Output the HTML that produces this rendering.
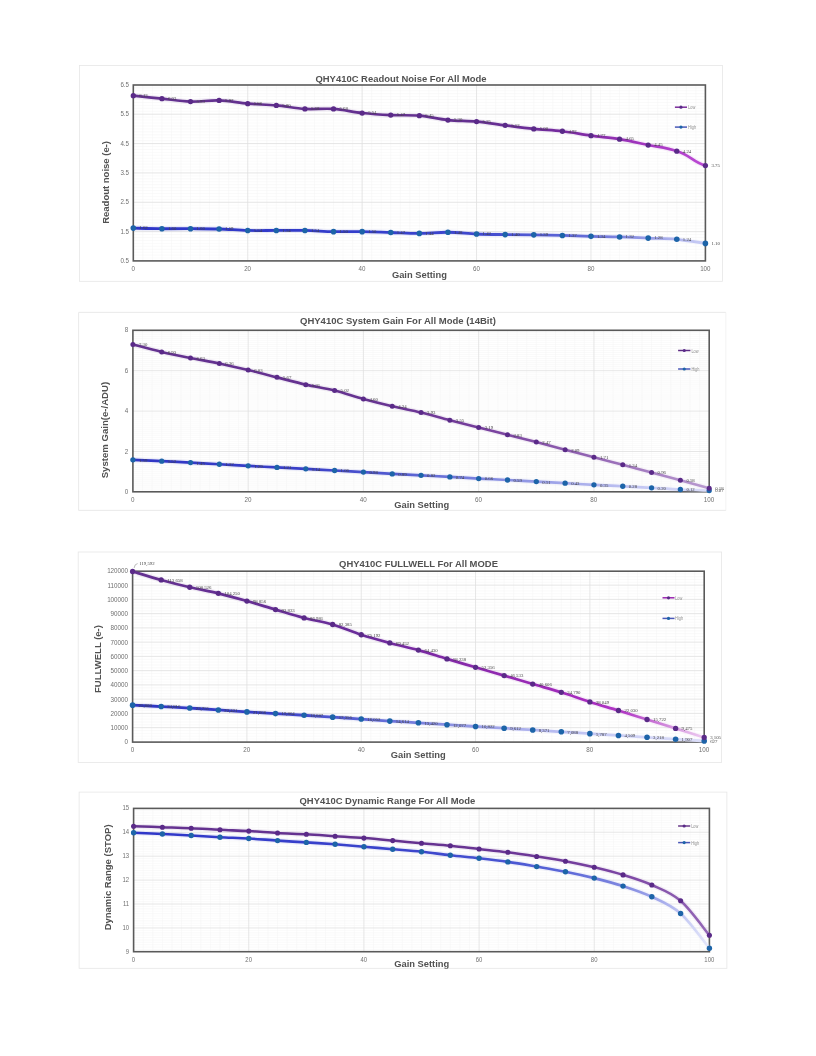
<!DOCTYPE html>
<html>
<head>
<meta charset="utf-8">
<title>QHY410C</title>
<style>
html,body{margin:0;padding:0;background:#ffffff;}
body{width:816px;height:1056px;overflow:hidden;position:relative;font-family:"Liberation Sans",sans-serif;}
svg{position:absolute;left:0;top:0;display:block;filter:blur(0.35px);}
text{font-family:"Liberation Sans",sans-serif;}
.t{font-weight:bold;font-size:9.45px;fill:#525252;}
.x{font-size:9.33px;}
.y{font-size:9.5px;}
.k{font-size:var(--k);fill:#707070;}
.d{font-family:"Liberation Serif",serif;font-size:4.8px;fill:#444444;}
.g{font-size:4.1px;fill:#909090;}
</style>
</head>
<body>
<svg width="816" height="1056" viewBox="0 0 816 1056">
<defs>
<filter id="soft" x="-5%" y="-5%" width="110%" height="110%"><feGaussianBlur stdDeviation="0.35"/></filter>
</defs>
<rect x="0" y="0" width="816" height="1056" fill="#ffffff"/>

<g id="chart1" style="--k:6.2px">
<linearGradient id="gL1" gradientUnits="userSpaceOnUse" x1="133.3" y1="0" x2="705.4" y2="0">
<stop offset="0" stop-color="#643290"/>
<stop offset="0.6" stop-color="#643090"/>
<stop offset="0.7" stop-color="#6c2c98"/>
<stop offset="0.8" stop-color="#842ca8"/>
<stop offset="0.9" stop-color="#a636c2"/>
<stop offset="1" stop-color="#bc4ad4"/>
</linearGradient>
<linearGradient id="gH1" gradientUnits="userSpaceOnUse" x1="133.3" y1="0" x2="705.4" y2="0">
<stop offset="0" stop-color="#2f36c8"/>
<stop offset="0.4" stop-color="#343ecb"/>
<stop offset="0.6" stop-color="#4048ce"/>
<stop offset="0.8" stop-color="#666ed8"/>
<stop offset="0.9" stop-color="#969ce6"/>
<stop offset="1" stop-color="#ccd0f6"/>
</linearGradient>
<clipPath id="cp1"><rect x="78.5" y="64.4" width="645.1" height="217.4"/></clipPath>
<rect x="79.5" y="65.4" width="643.1" height="215.9" fill="#ffffff" stroke="#e6e6e6" stroke-width="0.8"/>
<path d="M142.84 85V260.9M152.37 85V260.9M161.91 85V260.9M171.44 85V260.9M180.97 85V260.9M190.51 85V260.9M200.05 85V260.9M209.58 85V260.9M219.12 85V260.9M228.65 85V260.9M238.19 85V260.9M257.25 85V260.9M266.79 85V260.9M276.32 85V260.9M285.86 85V260.9M295.39 85V260.9M304.93 85V260.9M314.46 85V260.9M324 85V260.9M333.53 85V260.9M343.07 85V260.9M352.6 85V260.9M371.67 85V260.9M381.21 85V260.9M390.74 85V260.9M400.28 85V260.9M409.81 85V260.9M419.35 85V260.9M428.88 85V260.9M438.42 85V260.9M447.95 85V260.9M457.49 85V260.9M467.02 85V260.9M486.09 85V260.9M495.63 85V260.9M505.16 85V260.9M514.7 85V260.9M524.23 85V260.9M533.77 85V260.9M543.3 85V260.9M552.84 85V260.9M562.38 85V260.9M571.91 85V260.9M581.44 85V260.9M600.51 85V260.9M610.05 85V260.9M619.58 85V260.9M629.12 85V260.9M638.65 85V260.9M648.19 85V260.9M657.72 85V260.9M667.26 85V260.9M676.79 85V260.9M686.33 85V260.9M695.87 85V260.9" stroke="#f4f4f4" stroke-width="0.5" fill="none"/>
<path d="M133.3 87.79H705.4M133.3 90.72H705.4M133.3 93.66H705.4M133.3 96.59H705.4M133.3 99.53H705.4M133.3 102.47H705.4M133.3 105.4H705.4M133.3 108.34H705.4M133.3 111.27H705.4M133.3 117.14H705.4M133.3 120.08H705.4M133.3 123.02H705.4M133.3 125.95H705.4M133.3 128.89H705.4M133.3 131.82H705.4M133.3 134.76H705.4M133.3 137.69H705.4M133.3 140.63H705.4M133.3 146.5H705.4M133.3 149.44H705.4M133.3 152.37H705.4M133.3 155.31H705.4M133.3 158.25H705.4M133.3 161.18H705.4M133.3 164.12H705.4M133.3 167.05H705.4M133.3 169.99H705.4M133.3 175.86H705.4M133.3 178.8H705.4M133.3 181.73H705.4M133.3 184.67H705.4M133.3 187.6H705.4M133.3 190.54H705.4M133.3 193.48H705.4M133.3 196.41H705.4M133.3 199.35H705.4M133.3 205.22H705.4M133.3 208.16H705.4M133.3 211.09H705.4M133.3 214.03H705.4M133.3 216.96H705.4M133.3 219.9H705.4M133.3 222.83H705.4M133.3 225.77H705.4M133.3 228.71H705.4M133.3 234.58H705.4M133.3 237.51H705.4M133.3 240.45H705.4M133.3 243.38H705.4M133.3 246.32H705.4M133.3 249.26H705.4M133.3 252.19H705.4M133.3 255.13H705.4M133.3 258.06H705.4" stroke="#f4f4f4" stroke-width="0.5" fill="none"/>
<path d="M247.72 85V260.9M362.14 85V260.9M476.56 85V260.9M590.98 85V260.9M133.3 114.21H705.4M133.3 143.57H705.4M133.3 172.93H705.4M133.3 202.28H705.4M133.3 231.64H705.4" stroke="#e0e0e0" stroke-width="0.8" fill="none"/>
<rect x="133.3" y="85" width="572.1" height="175.9" fill="none" stroke="#5a5a5a" stroke-width="1.6"/>
<text class="t" x="401" y="81.9" text-anchor="middle">QHY410C Readout Noise For All Mode</text>
<text class="t x" x="419.4" y="277.5" text-anchor="middle" clip-path="url(#cp1)">Gain Setting</text>
<text class="t y" transform="translate(108.9 182.4) rotate(-90)" text-anchor="middle">Readout noise (e-)</text>
<text class="k" transform="translate(129 86.85) scale(1 1.12)" text-anchor="end">6.5</text>
<text class="k" transform="translate(129 116.21) scale(1 1.12)" text-anchor="end">5.5</text>
<text class="k" transform="translate(129 145.57) scale(1 1.12)" text-anchor="end">4.5</text>
<text class="k" transform="translate(129 174.93) scale(1 1.12)" text-anchor="end">3.5</text>
<text class="k" transform="translate(129 204.28) scale(1 1.12)" text-anchor="end">2.5</text>
<text class="k" transform="translate(129 233.64) scale(1 1.12)" text-anchor="end">1.5</text>
<text class="k" transform="translate(129 263) scale(1 1.12)" text-anchor="end">0.5</text>
<text class="k" transform="translate(133.2 271.2) scale(1 1.12)" text-anchor="middle">0</text>
<text class="k" transform="translate(247.62 271.2) scale(1 1.12)" text-anchor="middle">20</text>
<text class="k" transform="translate(362.04 271.2) scale(1 1.12)" text-anchor="middle">40</text>
<text class="k" transform="translate(476.46 271.2) scale(1 1.12)" text-anchor="middle">60</text>
<text class="k" transform="translate(590.88 271.2) scale(1 1.12)" text-anchor="middle">80</text>
<text class="k" transform="translate(705.3 271.2) scale(1 1.12)" text-anchor="middle">100</text>
<path d="M133.3 228.12C138.07 228.22 152.37 228.61 161.91 228.71C171.44 228.8 180.97 228.66 190.51 228.71C200.04 228.75 209.58 228.71 219.12 229C228.65 229.29 238.19 230.22 247.72 230.47C257.25 230.71 266.79 230.47 276.32 230.47C285.86 230.47 295.39 230.27 304.93 230.47C314.46 230.66 324 231.45 333.53 231.64C343.07 231.84 352.6 231.49 362.14 231.64C371.68 231.79 381.21 232.23 390.75 232.52C400.28 232.82 409.81 233.45 419.35 233.4C428.88 233.35 438.42 232.13 447.95 232.23C457.49 232.33 467.02 233.6 476.56 233.99C486.09 234.38 495.63 234.43 505.16 234.58C514.7 234.72 524.24 234.72 533.77 234.87C543.3 235.02 552.84 235.21 562.38 235.46C571.91 235.7 581.45 236.09 590.98 236.34C600.51 236.58 610.05 236.63 619.59 236.93C629.12 237.22 638.66 237.71 648.19 238.1C657.73 238.49 667.26 238.39 676.79 239.27C686.33 240.16 700.63 242.7 705.4 243.38" fill="none" stroke="url(#gH1)" stroke-width="5.3" stroke-opacity="0.09" stroke-linecap="round"/>
<path d="M133.3 95.71C138.07 96.2 152.37 97.67 161.91 98.65C171.44 99.63 180.97 101.29 190.51 101.58C200.04 101.88 209.58 100.07 219.12 100.41C228.65 100.75 238.19 102.81 247.72 103.64C257.25 104.47 266.79 104.52 276.32 105.4C285.86 106.28 295.39 108.34 304.93 108.92C314.46 109.51 324 108.24 333.53 108.92C343.07 109.61 352.6 112.01 362.14 113.03C371.68 114.06 381.21 114.65 390.75 115.09C400.28 115.53 409.81 114.84 419.35 115.68C428.88 116.51 438.42 119.1 447.95 120.08C457.49 121.06 467.02 120.67 476.56 121.55C486.09 122.43 495.63 124.14 505.16 125.36C514.7 126.59 524.24 127.91 533.77 128.89C543.3 129.87 552.84 130.11 562.38 131.24C571.91 132.36 581.45 134.32 590.98 135.64C600.51 136.96 610.05 137.6 619.59 139.16C629.12 140.73 638.66 143.03 648.19 145.03C657.73 147.04 667.26 147.77 676.79 151.2C688.81 154.05 693.39 162.48 705.4 165.59" fill="none" stroke="url(#gL1)" stroke-width="5.3" stroke-opacity="0.09" stroke-linecap="round"/>
<path d="M133.3 228.12C138.07 228.22 152.37 228.61 161.91 228.71C171.44 228.8 180.97 228.66 190.51 228.71C200.04 228.75 209.58 228.71 219.12 229C228.65 229.29 238.19 230.22 247.72 230.47C257.25 230.71 266.79 230.47 276.32 230.47C285.86 230.47 295.39 230.27 304.93 230.47C314.46 230.66 324 231.45 333.53 231.64C343.07 231.84 352.6 231.49 362.14 231.64C371.68 231.79 381.21 232.23 390.75 232.52C400.28 232.82 409.81 233.45 419.35 233.4C428.88 233.35 438.42 232.13 447.95 232.23C457.49 232.33 467.02 233.6 476.56 233.99C486.09 234.38 495.63 234.43 505.16 234.58C514.7 234.72 524.24 234.72 533.77 234.87C543.3 235.02 552.84 235.21 562.38 235.46C571.91 235.7 581.45 236.09 590.98 236.34C600.51 236.58 610.05 236.63 619.59 236.93C629.12 237.22 638.66 237.71 648.19 238.1C657.73 238.49 667.26 238.39 676.79 239.27C686.33 240.16 700.63 242.7 705.4 243.38" fill="none" stroke="url(#gH1)" stroke-width="2.8" stroke-linecap="round" stroke-linejoin="round"/>
<path d="M133.3 95.71C138.07 96.2 152.37 97.67 161.91 98.65C171.44 99.63 180.97 101.29 190.51 101.58C200.04 101.88 209.58 100.07 219.12 100.41C228.65 100.75 238.19 102.81 247.72 103.64C257.25 104.47 266.79 104.52 276.32 105.4C285.86 106.28 295.39 108.34 304.93 108.92C314.46 109.51 324 108.24 333.53 108.92C343.07 109.61 352.6 112.01 362.14 113.03C371.68 114.06 381.21 114.65 390.75 115.09C400.28 115.53 409.81 114.84 419.35 115.68C428.88 116.51 438.42 119.1 447.95 120.08C457.49 121.06 467.02 120.67 476.56 121.55C486.09 122.43 495.63 124.14 505.16 125.36C514.7 126.59 524.24 127.91 533.77 128.89C543.3 129.87 552.84 130.11 562.38 131.24C571.91 132.36 581.45 134.32 590.98 135.64C600.51 136.96 610.05 137.6 619.59 139.16C629.12 140.73 638.66 143.03 648.19 145.03C657.73 147.04 667.26 147.77 676.79 151.2C688.81 154.05 693.39 162.48 705.4 165.59" fill="none" stroke="url(#gL1)" stroke-width="2.7" stroke-linecap="round" stroke-linejoin="round"/>
<g fill="#1d64a8"><circle cx="133.3" cy="228.12" r="2.8"/><circle cx="161.91" cy="228.71" r="2.8"/><circle cx="190.51" cy="228.71" r="2.8"/><circle cx="219.12" cy="229" r="2.8"/><circle cx="247.72" cy="230.47" r="2.8"/><circle cx="276.32" cy="230.47" r="2.8"/><circle cx="304.93" cy="230.47" r="2.8"/><circle cx="333.53" cy="231.64" r="2.8"/><circle cx="362.14" cy="231.64" r="2.8"/><circle cx="390.75" cy="232.52" r="2.8"/><circle cx="419.35" cy="233.4" r="2.8"/><circle cx="447.95" cy="232.23" r="2.8"/><circle cx="476.56" cy="233.99" r="2.8"/><circle cx="505.16" cy="234.58" r="2.8"/><circle cx="533.77" cy="234.87" r="2.8"/><circle cx="562.38" cy="235.46" r="2.8"/><circle cx="590.98" cy="236.34" r="2.8"/><circle cx="619.59" cy="236.93" r="2.8"/><circle cx="648.19" cy="238.1" r="2.8"/><circle cx="676.79" cy="239.27" r="2.8"/><circle cx="705.4" cy="243.38" r="2.8"/></g>
<g fill="#5a2a88"><circle cx="133.3" cy="95.71" r="2.65"/><circle cx="161.91" cy="98.65" r="2.65"/><circle cx="190.51" cy="101.58" r="2.65"/><circle cx="219.12" cy="100.41" r="2.65"/><circle cx="247.72" cy="103.64" r="2.65"/><circle cx="276.32" cy="105.4" r="2.65"/><circle cx="304.93" cy="108.92" r="2.65"/><circle cx="333.53" cy="108.92" r="2.65"/><circle cx="362.14" cy="113.03" r="2.65"/><circle cx="390.75" cy="115.09" r="2.65"/><circle cx="419.35" cy="115.68" r="2.65"/><circle cx="447.95" cy="120.08" r="2.65"/><circle cx="476.56" cy="121.55" r="2.65"/><circle cx="505.16" cy="125.36" r="2.65"/><circle cx="533.77" cy="128.89" r="2.65"/><circle cx="562.38" cy="131.24" r="2.65"/><circle cx="590.98" cy="135.64" r="2.65"/><circle cx="619.59" cy="139.16" r="2.65"/><circle cx="648.19" cy="145.03" r="2.65"/><circle cx="676.79" cy="151.2" r="2.65"/><circle cx="705.4" cy="165.59" r="2.65"/></g>
<g style="font-size:4.8px"><text class="d" x="139.3" y="229.42">1.62</text><text class="d" x="167.91" y="230.01">1.60</text><text class="d" x="196.51" y="230.01">1.60</text><text class="d" x="225.12" y="230.3">1.59</text><text class="d" x="253.72" y="231.77">1.54</text><text class="d" x="282.32" y="231.77">1.54</text><text class="d" x="310.93" y="231.77">1.54</text><text class="d" x="339.53" y="232.94">1.50</text><text class="d" x="368.14" y="232.94">1.50</text><text class="d" x="396.75" y="233.82">1.47</text><text class="d" x="425.35" y="234.7">1.44</text><text class="d" x="453.95" y="233.53">1.48</text><text class="d" x="482.56" y="235.29">1.42</text><text class="d" x="511.16" y="235.88">1.40</text><text class="d" x="539.77" y="236.17">1.39</text><text class="d" x="568.38" y="236.76">1.37</text><text class="d" x="596.98" y="237.64">1.34</text><text class="d" x="625.59" y="238.23">1.32</text><text class="d" x="654.19" y="239.4">1.28</text><text class="d" x="682.79" y="240.57">1.24</text><text class="d" x="711.4" y="244.69">1.10</text><text class="d" x="139.3" y="97.01">6.13</text><text class="d" x="167.91" y="99.95">6.03</text><text class="d" x="196.51" y="102.88">5.93</text><text class="d" x="225.12" y="101.71">5.97</text><text class="d" x="253.72" y="104.94">5.86</text><text class="d" x="282.32" y="106.7">5.80</text><text class="d" x="310.93" y="110.22">5.68</text><text class="d" x="339.53" y="110.22">5.68</text><text class="d" x="368.14" y="114.33">5.54</text><text class="d" x="396.75" y="116.39">5.47</text><text class="d" x="425.35" y="116.98">5.45</text><text class="d" x="453.95" y="121.38">5.30</text><text class="d" x="482.56" y="122.85">5.25</text><text class="d" x="511.16" y="126.66">5.12</text><text class="d" x="539.77" y="130.19">5.00</text><text class="d" x="568.38" y="132.54">4.92</text><text class="d" x="596.98" y="136.94">4.77</text><text class="d" x="625.59" y="140.46">4.65</text><text class="d" x="654.19" y="146.33">4.45</text><text class="d" x="682.79" y="152.5">4.24</text><text class="d" x="711.4" y="166.89">3.75</text></g>
<path d="M674.9 107.2H687" stroke="#7a2c9a" stroke-width="1.5" fill="none"/>
<circle cx="680.95" cy="107.2" r="1.6" fill="#5a2a88"/>
<text class="g" transform="translate(688.1 109.2) scale(0.95 1.2)">Low</text>
<path d="M674.9 127.1H687" stroke="#4a58b8" stroke-width="1.5" fill="none"/>
<circle cx="680.95" cy="127.1" r="1.6" fill="#1d64a8"/>
<text class="g" transform="translate(688.1 129.1) scale(0.95 1.2)">High</text>
</g>
<g id="chart2" style="--k:6.3px">
<linearGradient id="gL2" gradientUnits="userSpaceOnUse" x1="132.9" y1="0" x2="709.2" y2="0">
<stop offset="0" stop-color="#643290"/>
<stop offset="0.4" stop-color="#653290"/>
<stop offset="0.6" stop-color="#763e9c"/>
<stop offset="0.8" stop-color="#9466b4"/>
<stop offset="0.92" stop-color="#ab86c6"/>
<stop offset="1" stop-color="#b99ad0"/>
</linearGradient>
<linearGradient id="gH2" gradientUnits="userSpaceOnUse" x1="132.9" y1="0" x2="709.2" y2="0">
<stop offset="0" stop-color="#3036c4"/>
<stop offset="0.3" stop-color="#3a40c8"/>
<stop offset="0.45" stop-color="#525ad0"/>
<stop offset="0.6" stop-color="#7a82de"/>
<stop offset="0.75" stop-color="#a4a9ea"/>
<stop offset="0.9" stop-color="#c8cbf4"/>
<stop offset="1" stop-color="#dcdef9"/>
</linearGradient>
<clipPath id="cp2"><rect x="77.6" y="311.4" width="649.2" height="199.5"/></clipPath>
<path d="M725.8 312.4V510.4H725.8V312.4" fill="none" stroke="#f7f7f7" stroke-width="1"/>
<path d="M725.8 312.4H78.6V510.4H725.8" fill="none" stroke="#e4e4e4" stroke-width="0.8"/>
<path d="M142.5 330.3V491.8M152.11 330.3V491.8M161.72 330.3V491.8M171.32 330.3V491.8M180.93 330.3V491.8M190.53 330.3V491.8M200.13 330.3V491.8M209.74 330.3V491.8M219.35 330.3V491.8M228.95 330.3V491.8M238.56 330.3V491.8M257.76 330.3V491.8M267.37 330.3V491.8M276.98 330.3V491.8M286.58 330.3V491.8M296.19 330.3V491.8M305.79 330.3V491.8M315.39 330.3V491.8M325 330.3V491.8M334.61 330.3V491.8M344.21 330.3V491.8M353.82 330.3V491.8M373.03 330.3V491.8M382.63 330.3V491.8M392.24 330.3V491.8M401.84 330.3V491.8M411.45 330.3V491.8M421.05 330.3V491.8M430.66 330.3V491.8M440.26 330.3V491.8M449.87 330.3V491.8M459.47 330.3V491.8M469.08 330.3V491.8M488.29 330.3V491.8M497.89 330.3V491.8M507.5 330.3V491.8M517.1 330.3V491.8M526.71 330.3V491.8M536.31 330.3V491.8M545.92 330.3V491.8M555.52 330.3V491.8M565.13 330.3V491.8M574.73 330.3V491.8M584.34 330.3V491.8M603.55 330.3V491.8M613.15 330.3V491.8M622.76 330.3V491.8M632.36 330.3V491.8M641.97 330.3V491.8M651.57 330.3V491.8M661.18 330.3V491.8M670.78 330.3V491.8M680.39 330.3V491.8M689.99 330.3V491.8M699.6 330.3V491.8" stroke="#f4f4f4" stroke-width="0.5" fill="none"/>
<path d="M132.9 332.32H709.2M132.9 334.34H709.2M132.9 336.36H709.2M132.9 338.38H709.2M132.9 340.4H709.2M132.9 342.42H709.2M132.9 344.44H709.2M132.9 346.46H709.2M132.9 348.48H709.2M132.9 350.5H709.2M132.9 352.52H709.2M132.9 354.54H709.2M132.9 356.56H709.2M132.9 358.58H709.2M132.9 360.6H709.2M132.9 362.62H709.2M132.9 364.64H709.2M132.9 366.66H709.2M132.9 368.68H709.2M132.9 372.72H709.2M132.9 374.74H709.2M132.9 376.76H709.2M132.9 378.78H709.2M132.9 380.8H709.2M132.9 382.82H709.2M132.9 384.84H709.2M132.9 386.86H709.2M132.9 388.88H709.2M132.9 390.9H709.2M132.9 392.92H709.2M132.9 394.94H709.2M132.9 396.96H709.2M132.9 398.98H709.2M132.9 401H709.2M132.9 403.02H709.2M132.9 405.04H709.2M132.9 407.06H709.2M132.9 409.08H709.2M132.9 413.12H709.2M132.9 415.14H709.2M132.9 417.16H709.2M132.9 419.18H709.2M132.9 421.2H709.2M132.9 423.22H709.2M132.9 425.24H709.2M132.9 427.26H709.2M132.9 429.28H709.2M132.9 431.3H709.2M132.9 433.32H709.2M132.9 435.34H709.2M132.9 437.36H709.2M132.9 439.38H709.2M132.9 441.4H709.2M132.9 443.42H709.2M132.9 445.44H709.2M132.9 447.46H709.2M132.9 449.48H709.2M132.9 453.52H709.2M132.9 455.54H709.2M132.9 457.56H709.2M132.9 459.58H709.2M132.9 461.6H709.2M132.9 463.62H709.2M132.9 465.64H709.2M132.9 467.66H709.2M132.9 469.68H709.2M132.9 471.7H709.2M132.9 473.72H709.2M132.9 475.74H709.2M132.9 477.76H709.2M132.9 479.78H709.2M132.9 481.8H709.2M132.9 483.82H709.2M132.9 485.84H709.2M132.9 487.86H709.2M132.9 489.88H709.2" stroke="#f4f4f4" stroke-width="0.5" fill="none"/>
<path d="M248.16 330.3V491.8M363.42 330.3V491.8M478.68 330.3V491.8M593.94 330.3V491.8M132.9 370.7H709.2M132.9 411.1H709.2M132.9 451.5H709.2" stroke="#e0e0e0" stroke-width="0.8" fill="none"/>
<rect x="132.9" y="330.3" width="576.3" height="161.5" fill="none" stroke="#5a5a5a" stroke-width="1.6"/>
<text class="t" x="397.9" y="323.8" text-anchor="middle" style="font-size:9.53px">QHY410C System Gain For All Mode (14Bit)</text>
<text class="t x" x="421.7" y="508.4" text-anchor="middle" clip-path="url(#cp2)">Gain Setting</text>
<text class="t y" transform="translate(108.2 430.1) rotate(-90)" text-anchor="middle" style="font-size:9.6px">System Gain(e-/ADU)</text>
<text class="k" transform="translate(128.3 332.3) scale(1 1.12)" text-anchor="end">8</text>
<text class="k" transform="translate(128.3 372.7) scale(1 1.12)" text-anchor="end">6</text>
<text class="k" transform="translate(128.3 413.1) scale(1 1.12)" text-anchor="end">4</text>
<text class="k" transform="translate(128.3 453.5) scale(1 1.12)" text-anchor="end">2</text>
<text class="k" transform="translate(128.3 493.9) scale(1 1.12)" text-anchor="end">0</text>
<text class="k" transform="translate(132.8 501.9) scale(1 1.12)" text-anchor="middle">0</text>
<text class="k" transform="translate(248.06 501.9) scale(1 1.12)" text-anchor="middle">20</text>
<text class="k" transform="translate(363.32 501.9) scale(1 1.12)" text-anchor="middle">40</text>
<text class="k" transform="translate(478.58 501.9) scale(1 1.12)" text-anchor="middle">60</text>
<text class="k" transform="translate(593.84 501.9) scale(1 1.12)" text-anchor="middle">80</text>
<text class="k" transform="translate(709.1 501.9) scale(1 1.12)" text-anchor="middle">100</text>
<path d="M132.9 459.78C137.7 460.02 152.11 460.72 161.72 461.2C171.32 461.67 180.93 462.11 190.53 462.61C200.14 463.12 209.74 463.69 219.35 464.23C228.95 464.76 238.56 465.3 248.16 465.84C257.77 466.38 267.37 466.95 276.98 467.46C286.58 467.96 296.19 468.37 305.79 468.87C315.4 469.38 325 469.95 334.61 470.49C344.21 471.03 353.82 471.53 363.42 472.1C373.03 472.68 382.63 473.38 392.24 473.92C401.84 474.46 411.45 474.83 421.05 475.34C430.66 475.84 440.26 476.41 449.87 476.95C459.47 477.49 469.08 478.06 478.68 478.57C488.29 479.07 497.89 479.48 507.5 479.98C517.1 480.49 526.71 481.06 536.31 481.6C545.92 482.14 555.52 482.68 565.13 483.21C574.73 483.75 584.34 484.32 593.94 484.83C603.55 485.33 613.15 485.74 622.75 486.24C632.36 486.75 641.97 487.32 651.57 487.86C661.18 488.4 670.78 489.04 680.38 489.48C689.99 489.91 704.4 490.32 709.2 490.49" fill="none" stroke="url(#gH2)" stroke-width="5.2" stroke-opacity="0.09" stroke-linecap="round"/>
<path d="M132.9 344.44C137.7 345.69 152.11 349.66 161.72 351.91C171.32 354.17 180.93 356.06 190.53 357.97C200.14 359.89 209.74 361.41 219.35 363.43C228.95 365.45 238.56 367.77 248.16 370.09C257.77 372.42 267.37 374.94 276.98 377.37C286.58 379.79 296.19 382.45 305.79 384.64C315.4 386.83 325 388.11 334.61 390.5C344.21 392.89 353.82 396.35 363.42 398.98C373.03 401.61 382.63 404 392.24 406.25C401.84 408.51 411.45 410.19 421.05 412.51C430.66 414.84 440.26 417.7 449.87 420.19C459.47 422.68 469.08 425.04 478.68 427.46C488.29 429.89 497.89 432.31 507.5 434.73C517.1 437.16 526.71 439.51 536.31 442.01C545.92 444.5 555.52 447.12 565.13 449.68C574.73 452.24 584.34 454.83 593.94 457.36C603.55 459.88 613.15 462.31 622.75 464.83C632.36 467.36 641.97 469.95 651.57 472.51C661.18 475.07 670.78 477.56 680.38 480.18C689.99 482.81 704.4 486.92 709.2 488.26" fill="none" stroke="url(#gL2)" stroke-width="5.2" stroke-opacity="0.09" stroke-linecap="round"/>
<path d="M132.9 459.78C137.7 460.02 152.11 460.72 161.72 461.2C171.32 461.67 180.93 462.11 190.53 462.61C200.14 463.12 209.74 463.69 219.35 464.23C228.95 464.76 238.56 465.3 248.16 465.84C257.77 466.38 267.37 466.95 276.98 467.46C286.58 467.96 296.19 468.37 305.79 468.87C315.4 469.38 325 469.95 334.61 470.49C344.21 471.03 353.82 471.53 363.42 472.1C373.03 472.68 382.63 473.38 392.24 473.92C401.84 474.46 411.45 474.83 421.05 475.34C430.66 475.84 440.26 476.41 449.87 476.95C459.47 477.49 469.08 478.06 478.68 478.57C488.29 479.07 497.89 479.48 507.5 479.98C517.1 480.49 526.71 481.06 536.31 481.6C545.92 482.14 555.52 482.68 565.13 483.21C574.73 483.75 584.34 484.32 593.94 484.83C603.55 485.33 613.15 485.74 622.75 486.24C632.36 486.75 641.97 487.32 651.57 487.86C661.18 488.4 670.78 489.04 680.38 489.48C689.99 489.91 704.4 490.32 709.2 490.49" fill="none" stroke="url(#gH2)" stroke-width="2.7" stroke-linecap="round" stroke-linejoin="round"/>
<path d="M132.9 344.44C137.7 345.69 152.11 349.66 161.72 351.91C171.32 354.17 180.93 356.06 190.53 357.97C200.14 359.89 209.74 361.41 219.35 363.43C228.95 365.45 238.56 367.77 248.16 370.09C257.77 372.42 267.37 374.94 276.98 377.37C286.58 379.79 296.19 382.45 305.79 384.64C315.4 386.83 325 388.11 334.61 390.5C344.21 392.89 353.82 396.35 363.42 398.98C373.03 401.61 382.63 404 392.24 406.25C401.84 408.51 411.45 410.19 421.05 412.51C430.66 414.84 440.26 417.7 449.87 420.19C459.47 422.68 469.08 425.04 478.68 427.46C488.29 429.89 497.89 432.31 507.5 434.73C517.1 437.16 526.71 439.51 536.31 442.01C545.92 444.5 555.52 447.12 565.13 449.68C574.73 452.24 584.34 454.83 593.94 457.36C603.55 459.88 613.15 462.31 622.75 464.83C632.36 467.36 641.97 469.95 651.57 472.51C661.18 475.07 670.78 477.56 680.38 480.18C689.99 482.81 704.4 486.92 709.2 488.26" fill="none" stroke="url(#gL2)" stroke-width="2.6" stroke-linecap="round" stroke-linejoin="round"/>
<g fill="#1d64a8"><circle cx="132.9" cy="459.78" r="2.65"/><circle cx="161.72" cy="461.2" r="2.65"/><circle cx="190.53" cy="462.61" r="2.65"/><circle cx="219.35" cy="464.23" r="2.65"/><circle cx="248.16" cy="465.84" r="2.65"/><circle cx="276.98" cy="467.46" r="2.65"/><circle cx="305.79" cy="468.87" r="2.65"/><circle cx="334.61" cy="470.49" r="2.65"/><circle cx="363.42" cy="472.1" r="2.65"/><circle cx="392.24" cy="473.92" r="2.65"/><circle cx="421.05" cy="475.34" r="2.65"/><circle cx="449.87" cy="476.95" r="2.65"/><circle cx="478.68" cy="478.57" r="2.65"/><circle cx="507.5" cy="479.98" r="2.65"/><circle cx="536.31" cy="481.6" r="2.65"/><circle cx="565.13" cy="483.21" r="2.65"/><circle cx="593.94" cy="484.83" r="2.65"/><circle cx="622.75" cy="486.24" r="2.65"/><circle cx="651.57" cy="487.86" r="2.65"/><circle cx="680.38" cy="489.48" r="2.65"/><circle cx="709.2" cy="490.49" r="2.65"/></g>
<g fill="#5a2a88"><circle cx="132.9" cy="344.44" r="2.5"/><circle cx="161.72" cy="351.91" r="2.5"/><circle cx="190.53" cy="357.97" r="2.5"/><circle cx="219.35" cy="363.43" r="2.5"/><circle cx="248.16" cy="370.09" r="2.5"/><circle cx="276.98" cy="377.37" r="2.5"/><circle cx="305.79" cy="384.64" r="2.5"/><circle cx="334.61" cy="390.5" r="2.5"/><circle cx="363.42" cy="398.98" r="2.5"/><circle cx="392.24" cy="406.25" r="2.5"/><circle cx="421.05" cy="412.51" r="2.5"/><circle cx="449.87" cy="420.19" r="2.5"/><circle cx="478.68" cy="427.46" r="2.5"/><circle cx="507.5" cy="434.73" r="2.5"/><circle cx="536.31" cy="442.01" r="2.5"/><circle cx="565.13" cy="449.68" r="2.5"/><circle cx="593.94" cy="457.36" r="2.5"/><circle cx="622.75" cy="464.83" r="2.5"/><circle cx="651.57" cy="472.51" r="2.5"/><circle cx="680.38" cy="480.18" r="2.5"/><circle cx="709.2" cy="488.26" r="2.5"/></g>
<g style="font-size:4.5px"><text class="d" x="138.9" y="461.68">1.59</text><text class="d" x="167.72" y="463.1">1.52</text><text class="d" x="196.53" y="464.51">1.45</text><text class="d" x="225.35" y="466.13">1.37</text><text class="d" x="254.16" y="467.74">1.29</text><text class="d" x="282.98" y="469.36">1.21</text><text class="d" x="311.79" y="470.77">1.14</text><text class="d" x="340.61" y="472.39">1.06</text><text class="d" x="369.42" y="474">0.98</text><text class="d" x="398.24" y="475.82">0.89</text><text class="d" x="427.05" y="477.24">0.82</text><text class="d" x="455.87" y="478.85">0.74</text><text class="d" x="484.68" y="480.47">0.66</text><text class="d" x="513.5" y="481.88">0.59</text><text class="d" x="542.31" y="483.5">0.51</text><text class="d" x="571.13" y="485.11">0.43</text><text class="d" x="599.94" y="486.73">0.35</text><text class="d" x="628.75" y="488.14">0.28</text><text class="d" x="657.57" y="489.76">0.20</text><text class="d" x="686.38" y="491.38">0.12</text><text class="d" x="715.2" y="492.39">0.07</text><text class="d" x="138.9" y="346.34">7.30</text><text class="d" x="167.72" y="353.81">6.93</text><text class="d" x="196.53" y="359.87">6.63</text><text class="d" x="225.35" y="365.33">6.36</text><text class="d" x="254.16" y="371.99">6.03</text><text class="d" x="282.98" y="379.27">5.67</text><text class="d" x="311.79" y="386.54">5.31</text><text class="d" x="340.61" y="392.4">5.02</text><text class="d" x="369.42" y="400.88">4.60</text><text class="d" x="398.24" y="408.15">4.24</text><text class="d" x="427.05" y="414.41">3.93</text><text class="d" x="455.87" y="422.09">3.55</text><text class="d" x="484.68" y="429.36">3.19</text><text class="d" x="513.5" y="436.63">2.83</text><text class="d" x="542.31" y="443.91">2.47</text><text class="d" x="571.13" y="451.58">2.09</text><text class="d" x="599.94" y="459.26">1.71</text><text class="d" x="628.75" y="466.73">1.34</text><text class="d" x="657.57" y="474.41">0.96</text><text class="d" x="686.38" y="482.08">0.58</text><text class="d" x="715.2" y="490.16">0.18</text></g>
<path d="M678.1 350.5H690.4" stroke="#5e2c84" stroke-width="1.5" fill="none"/>
<circle cx="684.25" cy="350.5" r="1.6" fill="#5a2a88"/>
<text class="g" transform="translate(691.4 352.5) scale(0.95 1.2)">Low</text>
<path d="M678.1 369H690.4" stroke="#4a58b8" stroke-width="1.5" fill="none"/>
<circle cx="684.25" cy="369" r="1.6" fill="#1d64a8"/>
<text class="g" transform="translate(691.4 371) scale(0.95 1.2)">High</text>
</g>
<g id="chart3" style="--k:6.3px">
<linearGradient id="gL3" gradientUnits="userSpaceOnUse" x1="132.6" y1="0" x2="704.2" y2="0">
<stop offset="0" stop-color="#643290"/>
<stop offset="0.4" stop-color="#6a2c9a"/>
<stop offset="0.6" stop-color="#8a28ac"/>
<stop offset="0.8" stop-color="#a92cc0"/>
<stop offset="0.86" stop-color="#b23ac6"/>
<stop offset="0.92" stop-color="#cc7cd8"/>
<stop offset="0.97" stop-color="#e2b2e8"/>
<stop offset="1" stop-color="#ecc8f0"/>
</linearGradient>
<linearGradient id="gH3" gradientUnits="userSpaceOnUse" x1="132.6" y1="0" x2="704.2" y2="0">
<stop offset="0" stop-color="#3036c4"/>
<stop offset="0.25" stop-color="#3a40c8"/>
<stop offset="0.4" stop-color="#5a62d4"/>
<stop offset="0.55" stop-color="#8a90e2"/>
<stop offset="0.7" stop-color="#b0b4ee"/>
<stop offset="0.85" stop-color="#cccff5"/>
<stop offset="1" stop-color="#dcdef9"/>
</linearGradient>
<clipPath id="cp3"><rect x="77.2" y="551" width="645.4" height="211.9"/></clipPath>
<rect x="78.2" y="552" width="643.4" height="210.4" fill="#ffffff" stroke="#e6e6e6" stroke-width="0.8"/>
<path d="M142.13 571.2V742.1M151.65 571.2V742.1M161.18 571.2V742.1M170.71 571.2V742.1M180.23 571.2V742.1M189.76 571.2V742.1M199.29 571.2V742.1M208.81 571.2V742.1M218.34 571.2V742.1M227.87 571.2V742.1M237.39 571.2V742.1M256.45 571.2V742.1M265.97 571.2V742.1M275.5 571.2V742.1M285.03 571.2V742.1M294.55 571.2V742.1M304.08 571.2V742.1M313.61 571.2V742.1M323.13 571.2V742.1M332.66 571.2V742.1M342.19 571.2V742.1M351.71 571.2V742.1M370.77 571.2V742.1M380.29 571.2V742.1M389.82 571.2V742.1M399.35 571.2V742.1M408.87 571.2V742.1M418.4 571.2V742.1M427.93 571.2V742.1M437.45 571.2V742.1M446.98 571.2V742.1M456.51 571.2V742.1M466.03 571.2V742.1M485.09 571.2V742.1M494.61 571.2V742.1M504.14 571.2V742.1M513.67 571.2V742.1M523.19 571.2V742.1M532.72 571.2V742.1M542.25 571.2V742.1M551.77 571.2V742.1M561.3 571.2V742.1M570.83 571.2V742.1M580.35 571.2V742.1M599.41 571.2V742.1M608.93 571.2V742.1M618.46 571.2V742.1M627.99 571.2V742.1M637.51 571.2V742.1M647.04 571.2V742.1M656.57 571.2V742.1M666.09 571.2V742.1M675.62 571.2V742.1M685.15 571.2V742.1M694.67 571.2V742.1" stroke="#f4f4f4" stroke-width="0.5" fill="none"/>
<path d="M132.6 573.75H704.2M132.6 576.6H704.2M132.6 579.45H704.2M132.6 582.3H704.2M132.6 588H704.2M132.6 590.85H704.2M132.6 593.7H704.2M132.6 596.55H704.2M132.6 602.25H704.2M132.6 605.1H704.2M132.6 607.95H704.2M132.6 610.8H704.2M132.6 616.5H704.2M132.6 619.35H704.2M132.6 622.2H704.2M132.6 625.05H704.2M132.6 630.75H704.2M132.6 633.6H704.2M132.6 636.45H704.2M132.6 639.3H704.2M132.6 645H704.2M132.6 647.85H704.2M132.6 650.7H704.2M132.6 653.55H704.2M132.6 659.25H704.2M132.6 662.1H704.2M132.6 664.95H704.2M132.6 667.8H704.2M132.6 673.5H704.2M132.6 676.35H704.2M132.6 679.2H704.2M132.6 682.05H704.2M132.6 687.75H704.2M132.6 690.6H704.2M132.6 693.45H704.2M132.6 696.3H704.2M132.6 702H704.2M132.6 704.85H704.2M132.6 707.7H704.2M132.6 710.55H704.2M132.6 716.25H704.2M132.6 719.1H704.2M132.6 721.95H704.2M132.6 724.8H704.2M132.6 730.5H704.2M132.6 733.35H704.2M132.6 736.2H704.2M132.6 739.05H704.2" stroke="#f4f4f4" stroke-width="0.5" fill="none"/>
<path d="M246.92 571.2V742.1M361.24 571.2V742.1M475.56 571.2V742.1M589.88 571.2V742.1M132.6 585.15H704.2M132.6 599.4H704.2M132.6 613.65H704.2M132.6 627.9H704.2M132.6 642.15H704.2M132.6 656.4H704.2M132.6 670.65H704.2M132.6 684.9H704.2M132.6 699.15H704.2M132.6 713.4H704.2M132.6 727.65H704.2" stroke="#e0e0e0" stroke-width="0.8" fill="none"/>
<rect x="132.6" y="571.2" width="571.6" height="170.9" fill="none" stroke="#5a5a5a" stroke-width="1.6"/>
<text class="t" x="418.5" y="566.6" text-anchor="middle">QHY410C FULLWELL For All MODE</text>
<text class="t x" x="418.2" y="758.4" text-anchor="middle" clip-path="url(#cp3)">Gain Setting</text>
<text class="t y" transform="translate(100.9 659) rotate(-90)" text-anchor="middle">FULLWELL (e-)</text>
<text class="k" transform="translate(128.1 573.3) scale(1 1.12)" text-anchor="end">120000</text>
<text class="k" transform="translate(128.1 587.55) scale(1 1.12)" text-anchor="end">110000</text>
<text class="k" transform="translate(128.1 601.8) scale(1 1.12)" text-anchor="end">100000</text>
<text class="k" transform="translate(128.1 616.05) scale(1 1.12)" text-anchor="end">90000</text>
<text class="k" transform="translate(128.1 630.3) scale(1 1.12)" text-anchor="end">80000</text>
<text class="k" transform="translate(128.1 644.55) scale(1 1.12)" text-anchor="end">70000</text>
<text class="k" transform="translate(128.1 658.8) scale(1 1.12)" text-anchor="end">60000</text>
<text class="k" transform="translate(128.1 673.05) scale(1 1.12)" text-anchor="end">50000</text>
<text class="k" transform="translate(128.1 687.3) scale(1 1.12)" text-anchor="end">40000</text>
<text class="k" transform="translate(128.1 701.55) scale(1 1.12)" text-anchor="end">30000</text>
<text class="k" transform="translate(128.1 715.8) scale(1 1.12)" text-anchor="end">20000</text>
<text class="k" transform="translate(128.1 730.05) scale(1 1.12)" text-anchor="end">10000</text>
<text class="k" transform="translate(128.1 744.3) scale(1 1.12)" text-anchor="end">0</text>
<text class="k" transform="translate(132.5 752.3) scale(1 1.12)" text-anchor="middle">0</text>
<text class="k" transform="translate(246.82 752.3) scale(1 1.12)" text-anchor="middle">20</text>
<text class="k" transform="translate(361.14 752.3) scale(1 1.12)" text-anchor="middle">40</text>
<text class="k" transform="translate(475.46 752.3) scale(1 1.12)" text-anchor="middle">60</text>
<text class="k" transform="translate(589.78 752.3) scale(1 1.12)" text-anchor="middle">80</text>
<text class="k" transform="translate(704.1 752.3) scale(1 1.12)" text-anchor="middle">100</text>
<path d="M132.6 705.13C137.36 705.37 151.65 706.05 161.18 706.54C170.71 707.02 180.23 707.48 189.76 708.05C199.29 708.62 208.81 709.31 218.34 709.95C227.87 710.59 237.39 711.27 246.92 711.88C256.45 712.49 265.97 713.03 275.5 713.59C285.03 714.16 294.55 714.68 304.08 715.27C313.61 715.87 323.13 716.54 332.66 717.17C342.19 717.79 351.71 718.37 361.24 719.03C370.77 719.68 380.29 720.45 389.82 721.08C399.35 721.7 408.87 722.17 418.4 722.78C427.93 723.38 437.45 724.07 446.98 724.69C456.51 725.31 466.03 725.89 475.56 726.48C485.09 727.06 494.61 727.62 504.14 728.2C513.67 728.79 523.19 729.37 532.72 729.97C542.25 730.57 551.77 731.19 561.3 731.8C570.83 732.41 580.35 733.04 589.88 733.65C599.41 734.27 608.93 734.86 618.46 735.47C627.99 736.08 637.51 736.7 647.04 737.31C656.57 737.93 666.09 738.57 675.62 739.18C685.15 739.8 699.44 740.7 704.2 741.01" fill="none" stroke="url(#gH3)" stroke-width="5.3" stroke-opacity="0.09" stroke-linecap="round"/>
<path d="M132.6 571.48C137.36 572.89 151.65 577.31 161.18 579.94C170.71 582.57 180.23 585.02 189.76 587.25C199.29 589.48 208.81 591.05 218.34 593.34C227.87 595.64 237.39 598.32 246.92 601.03C256.45 603.74 265.97 606.79 275.5 609.61C285.03 612.43 294.55 615.47 304.08 617.95C313.61 620.43 323.13 621.7 332.66 624.5C342.19 627.3 351.71 631.68 361.24 634.75C370.77 637.82 380.29 640.37 389.82 642.93C399.35 645.49 408.87 647.42 418.4 650.09C427.93 652.75 437.45 656.04 446.98 658.91C456.51 661.78 466.03 664.51 475.56 667.29C485.09 670.07 494.61 672.8 504.14 675.59C513.67 678.38 523.19 681.25 532.72 684.04C542.25 686.83 551.77 689.34 561.3 692.32C570.83 695.31 580.35 698.9 589.88 701.93C599.41 704.96 608.93 707.58 618.46 710.51C627.99 713.43 637.51 716.51 647.04 719.5C656.57 722.48 666.09 725.4 675.62 728.4C685.15 731.39 699.44 735.96 704.2 737.48" fill="none" stroke="url(#gL3)" stroke-width="5.3" stroke-opacity="0.09" stroke-linecap="round"/>
<path d="M132.6 705.13C137.36 705.37 151.65 706.05 161.18 706.54C170.71 707.02 180.23 707.48 189.76 708.05C199.29 708.62 208.81 709.31 218.34 709.95C227.87 710.59 237.39 711.27 246.92 711.88C256.45 712.49 265.97 713.03 275.5 713.59C285.03 714.16 294.55 714.68 304.08 715.27C313.61 715.87 323.13 716.54 332.66 717.17C342.19 717.79 351.71 718.37 361.24 719.03C370.77 719.68 380.29 720.45 389.82 721.08C399.35 721.7 408.87 722.17 418.4 722.78C427.93 723.38 437.45 724.07 446.98 724.69C456.51 725.31 466.03 725.89 475.56 726.48C485.09 727.06 494.61 727.62 504.14 728.2C513.67 728.79 523.19 729.37 532.72 729.97C542.25 730.57 551.77 731.19 561.3 731.8C570.83 732.41 580.35 733.04 589.88 733.65C599.41 734.27 608.93 734.86 618.46 735.47C627.99 736.08 637.51 736.7 647.04 737.31C656.57 737.93 666.09 738.57 675.62 739.18C685.15 739.8 699.44 740.7 704.2 741.01" fill="none" stroke="url(#gH3)" stroke-width="2.8" stroke-linecap="round" stroke-linejoin="round"/>
<path d="M132.6 571.48C137.36 572.89 151.65 577.31 161.18 579.94C170.71 582.57 180.23 585.02 189.76 587.25C199.29 589.48 208.81 591.05 218.34 593.34C227.87 595.64 237.39 598.32 246.92 601.03C256.45 603.74 265.97 606.79 275.5 609.61C285.03 612.43 294.55 615.47 304.08 617.95C313.61 620.43 323.13 621.7 332.66 624.5C342.19 627.3 351.71 631.68 361.24 634.75C370.77 637.82 380.29 640.37 389.82 642.93C399.35 645.49 408.87 647.42 418.4 650.09C427.93 652.75 437.45 656.04 446.98 658.91C456.51 661.78 466.03 664.51 475.56 667.29C485.09 670.07 494.61 672.8 504.14 675.59C513.67 678.38 523.19 681.25 532.72 684.04C542.25 686.83 551.77 689.34 561.3 692.32C570.83 695.31 580.35 698.9 589.88 701.93C599.41 704.96 608.93 707.58 618.46 710.51C627.99 713.43 637.51 716.51 647.04 719.5C656.57 722.48 666.09 725.4 675.62 728.4C685.15 731.39 699.44 735.96 704.2 737.48" fill="none" stroke="url(#gL3)" stroke-width="2.7" stroke-linecap="round" stroke-linejoin="round"/>
<g fill="#1d64a8"><circle cx="132.6" cy="705.13" r="2.8"/><circle cx="161.18" cy="706.54" r="2.8"/><circle cx="189.76" cy="708.05" r="2.8"/><circle cx="218.34" cy="709.95" r="2.8"/><circle cx="246.92" cy="711.88" r="2.8"/><circle cx="275.5" cy="713.59" r="2.8"/><circle cx="304.08" cy="715.27" r="2.8"/><circle cx="332.66" cy="717.17" r="2.8"/><circle cx="361.24" cy="719.03" r="2.8"/><circle cx="389.82" cy="721.08" r="2.8"/><circle cx="418.4" cy="722.78" r="2.8"/><circle cx="446.98" cy="724.69" r="2.8"/><circle cx="475.56" cy="726.48" r="2.8"/><circle cx="504.14" cy="728.2" r="2.8"/><circle cx="532.72" cy="729.97" r="2.8"/><circle cx="561.3" cy="731.8" r="2.8"/><circle cx="589.88" cy="733.65" r="2.8"/><circle cx="618.46" cy="735.47" r="2.8"/><circle cx="647.04" cy="737.31" r="2.8"/><circle cx="675.62" cy="739.18" r="2.8"/><circle cx="704.2" cy="741.01" r="2.8"/></g>
<g fill="#5a2a88"><circle cx="132.6" cy="571.48" r="2.65"/><circle cx="161.18" cy="579.94" r="2.65"/><circle cx="189.76" cy="587.25" r="2.65"/><circle cx="218.34" cy="593.34" r="2.65"/><circle cx="246.92" cy="601.03" r="2.65"/><circle cx="275.5" cy="609.61" r="2.65"/><circle cx="304.08" cy="617.95" r="2.65"/><circle cx="332.66" cy="624.5" r="2.65"/><circle cx="361.24" cy="634.75" r="2.65"/><circle cx="389.82" cy="642.93" r="2.65"/><circle cx="418.4" cy="650.09" r="2.65"/><circle cx="446.98" cy="658.91" r="2.65"/><circle cx="475.56" cy="667.29" r="2.65"/><circle cx="504.14" cy="675.59" r="2.65"/><circle cx="532.72" cy="684.04" r="2.65"/><circle cx="561.3" cy="692.32" r="2.65"/><circle cx="589.88" cy="701.93" r="2.65"/><circle cx="618.46" cy="710.51" r="2.65"/><circle cx="647.04" cy="719.5" r="2.65"/><circle cx="675.62" cy="728.4" r="2.65"/><circle cx="704.2" cy="737.48" r="2.65"/></g>
<g style="font-size:4.75px"><text class="d" x="138.6" y="707.03">25,800</text><text class="d" x="167.18" y="708.44">24,816</text><text class="d" x="195.76" y="709.95">23,755</text><text class="d" x="224.34" y="711.85">22,421</text><text class="d" x="252.92" y="713.78">21,066</text><text class="d" x="281.5" y="715.49">19,864</text><text class="d" x="310.08" y="717.17">18,687</text><text class="d" x="338.66" y="719.07">17,356</text><text class="d" x="367.24" y="720.93">16,052</text><text class="d" x="395.82" y="722.98">14,614</text><text class="d" x="424.4" y="724.68">13,420</text><text class="d" x="452.98" y="726.59">12,077</text><text class="d" x="481.56" y="728.38">10,822</text><text class="d" x="510.14" y="730.1">9,612</text><text class="d" x="538.72" y="731.87">8,371</text><text class="d" x="567.3" y="733.7">7,088</text><text class="d" x="595.88" y="735.55">5,787</text><text class="d" x="624.46" y="737.37">4,509</text><text class="d" x="653.04" y="739.21">3,218</text><text class="d" x="681.62" y="741.08">1,907</text><text class="d" x="710.2" y="742.91">627</text><path d="M134.1 567.98Q134.6 563.88 137.6 563.58" stroke="#777" stroke-width="0.5" fill="none"/><text class="d" x="139.2" y="565.18">119,592</text><text class="d" x="167.18" y="581.84">113,658</text><text class="d" x="195.76" y="589.15">108,526</text><text class="d" x="224.34" y="595.24">104,250</text><text class="d" x="252.92" y="602.93">98,856</text><text class="d" x="281.5" y="611.51">92,833</text><text class="d" x="310.08" y="619.85">86,981</text><text class="d" x="338.66" y="626.4">82,385</text><text class="d" x="367.24" y="636.65">75,192</text><text class="d" x="395.82" y="644.83">69,452</text><text class="d" x="424.4" y="651.99">64,430</text><text class="d" x="452.98" y="660.81">58,238</text><text class="d" x="481.56" y="669.19">52,356</text><text class="d" x="510.14" y="677.49">46,533</text><text class="d" x="538.72" y="685.94">40,606</text><text class="d" x="567.3" y="694.22">34,790</text><text class="d" x="595.88" y="703.83">28,049</text><text class="d" x="624.46" y="712.41">22,030</text><text class="d" x="653.04" y="721.4">15,722</text><text class="d" x="681.62" y="730.3">9,475</text><text class="d" x="710.2" y="739.38">3,105</text></g>
<path d="M662.5 597.8H674.5" stroke="#9a24b0" stroke-width="1.5" fill="none"/>
<circle cx="668.5" cy="597.8" r="1.6" fill="#5a2a88"/>
<text class="g" transform="translate(675.1 599.8) scale(0.95 1.2)">Low</text>
<path d="M662.5 618.4H674.5" stroke="#4a58b8" stroke-width="1.5" fill="none"/>
<circle cx="668.5" cy="618.4" r="1.6" fill="#1d64a8"/>
<text class="g" transform="translate(675.1 620.4) scale(0.95 1.2)">High</text>
</g>
<g id="chart4" style="--k:5.95px">
<linearGradient id="gL4" gradientUnits="userSpaceOnUse" x1="133.6" y1="0" x2="709.4" y2="0">
<stop offset="0" stop-color="#643290"/>
<stop offset="0.5" stop-color="#653290"/>
<stop offset="0.7" stop-color="#6e3898"/>
<stop offset="0.85" stop-color="#7c46a4"/>
<stop offset="1" stop-color="#9468b6"/>
</linearGradient>
<linearGradient id="gH4" gradientUnits="userSpaceOnUse" x1="133.6" y1="0" x2="709.4" y2="0">
<stop offset="0" stop-color="#2f36c8"/>
<stop offset="0.5" stop-color="#3c46cc"/>
<stop offset="0.65" stop-color="#4a56d2"/>
<stop offset="0.75" stop-color="#5c68d8"/>
<stop offset="0.85" stop-color="#8088e0"/>
<stop offset="0.92" stop-color="#a8aeec"/>
<stop offset="0.97" stop-color="#d0d4f6"/>
<stop offset="1" stop-color="#e6e8fb"/>
</linearGradient>
<clipPath id="cp4"><rect x="78.1" y="791.1" width="649.8" height="177.7"/></clipPath>
<rect x="79.1" y="792.1" width="647.8" height="176.2" fill="#ffffff" stroke="#e6e6e6" stroke-width="0.8"/>
<path d="M143.2 808.4V951.7M152.79 808.4V951.7M162.39 808.4V951.7M171.99 808.4V951.7M181.58 808.4V951.7M191.18 808.4V951.7M200.78 808.4V951.7M210.37 808.4V951.7M219.97 808.4V951.7M229.57 808.4V951.7M239.16 808.4V951.7M258.36 808.4V951.7M267.95 808.4V951.7M277.55 808.4V951.7M287.15 808.4V951.7M296.74 808.4V951.7M306.34 808.4V951.7M315.94 808.4V951.7M325.53 808.4V951.7M335.13 808.4V951.7M344.73 808.4V951.7M354.32 808.4V951.7M373.52 808.4V951.7M383.11 808.4V951.7M392.71 808.4V951.7M402.31 808.4V951.7M411.9 808.4V951.7M421.5 808.4V951.7M431.1 808.4V951.7M440.69 808.4V951.7M450.29 808.4V951.7M459.89 808.4V951.7M469.48 808.4V951.7M488.68 808.4V951.7M498.27 808.4V951.7M507.87 808.4V951.7M517.47 808.4V951.7M527.06 808.4V951.7M536.66 808.4V951.7M546.26 808.4V951.7M555.85 808.4V951.7M565.45 808.4V951.7M575.05 808.4V951.7M584.64 808.4V951.7M603.84 808.4V951.7M613.43 808.4V951.7M623.03 808.4V951.7M632.63 808.4V951.7M642.22 808.4V951.7M651.82 808.4V951.7M661.42 808.4V951.7M671.01 808.4V951.7M680.61 808.4V951.7M690.21 808.4V951.7M699.8 808.4V951.7" stroke="#f4f4f4" stroke-width="0.5" fill="none"/>
<path d="M133.6 810.69H709.4M133.6 813.09H709.4M133.6 815.48H709.4M133.6 817.87H709.4M133.6 820.27H709.4M133.6 822.66H709.4M133.6 825.05H709.4M133.6 827.45H709.4M133.6 829.84H709.4M133.6 834.63H709.4M133.6 837.02H709.4M133.6 839.41H709.4M133.6 841.81H709.4M133.6 844.2H709.4M133.6 846.59H709.4M133.6 848.99H709.4M133.6 851.38H709.4M133.6 853.77H709.4M133.6 858.56H709.4M133.6 860.95H709.4M133.6 863.35H709.4M133.6 865.74H709.4M133.6 868.13H709.4M133.6 870.53H709.4M133.6 872.92H709.4M133.6 875.31H709.4M133.6 877.71H709.4M133.6 882.49H709.4M133.6 884.89H709.4M133.6 887.28H709.4M133.6 889.67H709.4M133.6 892.07H709.4M133.6 894.46H709.4M133.6 896.85H709.4M133.6 899.25H709.4M133.6 901.64H709.4M133.6 906.43H709.4M133.6 908.82H709.4M133.6 911.21H709.4M133.6 913.61H709.4M133.6 916H709.4M133.6 918.39H709.4M133.6 920.79H709.4M133.6 923.18H709.4M133.6 925.57H709.4M133.6 930.36H709.4M133.6 932.75H709.4M133.6 935.15H709.4M133.6 937.54H709.4M133.6 939.93H709.4M133.6 942.33H709.4M133.6 944.72H709.4M133.6 947.11H709.4M133.6 949.51H709.4" stroke="#f4f4f4" stroke-width="0.5" fill="none"/>
<path d="M248.76 808.4V951.7M363.92 808.4V951.7M479.08 808.4V951.7M594.24 808.4V951.7M133.6 832.23H709.4M133.6 856.17H709.4M133.6 880.1H709.4M133.6 904.03H709.4M133.6 927.97H709.4" stroke="#e0e0e0" stroke-width="0.8" fill="none"/>
<rect x="133.6" y="808.4" width="575.8" height="143.3" fill="none" stroke="#5a5a5a" stroke-width="1.6"/>
<text class="t" x="387.4" y="804" text-anchor="middle">QHY410C Dynamic Range For All Mode</text>
<text class="t x" x="421.7" y="966.8" text-anchor="middle" clip-path="url(#cp4)">Gain Setting</text>
<text class="t y" transform="translate(111.4 877.4) rotate(-90)" text-anchor="middle">Dynamic Range (STOP)</text>
<text class="k" transform="translate(129.1 810.3) scale(1 1.12)" text-anchor="end">15</text>
<text class="k" transform="translate(129.1 834.23) scale(1 1.12)" text-anchor="end">14</text>
<text class="k" transform="translate(129.1 858.17) scale(1 1.12)" text-anchor="end">13</text>
<text class="k" transform="translate(129.1 882.1) scale(1 1.12)" text-anchor="end">12</text>
<text class="k" transform="translate(129.1 906.03) scale(1 1.12)" text-anchor="end">11</text>
<text class="k" transform="translate(129.1 929.97) scale(1 1.12)" text-anchor="end">10</text>
<text class="k" transform="translate(129.1 953.9) scale(1 1.12)" text-anchor="end">9</text>
<text class="k" transform="translate(133.5 961.8) scale(1 1.12)" text-anchor="middle">0</text>
<text class="k" transform="translate(248.66 961.8) scale(1 1.12)" text-anchor="middle">20</text>
<text class="k" transform="translate(363.82 961.8) scale(1 1.12)" text-anchor="middle">40</text>
<text class="k" transform="translate(478.98 961.8) scale(1 1.12)" text-anchor="middle">60</text>
<text class="k" transform="translate(594.14 961.8) scale(1 1.12)" text-anchor="middle">80</text>
<text class="k" transform="translate(709.3 961.8) scale(1 1.12)" text-anchor="middle">100</text>
<path d="M133.6 832.8C138.4 833 152.79 833.55 162.39 834C171.99 834.45 181.58 834.97 191.18 835.5C200.78 836.03 210.37 836.7 219.97 837.2C229.57 837.7 239.16 837.93 248.76 838.5C258.36 839.07 267.95 839.95 277.55 840.6C287.15 841.25 296.74 841.78 306.34 842.4C315.94 843.02 325.53 843.58 335.13 844.3C344.73 845.02 354.32 845.88 363.92 846.7C373.52 847.52 383.11 848.37 392.71 849.2C402.31 850.03 411.9 850.68 421.5 851.7C431.1 852.72 440.69 854.2 450.29 855.3C459.89 856.4 469.48 857.2 479.08 858.3C488.68 859.4 498.27 860.52 507.87 861.9C517.47 863.28 527.06 864.97 536.66 866.6C546.26 868.23 555.85 869.78 565.45 871.7C575.05 873.62 584.64 875.7 594.24 878.1C603.84 880.5 613.43 882.98 623.03 886.1C632.63 889.22 642.22 892.23 651.82 896.8C661.42 901.37 671.01 904.93 680.61 913.5C690.21 922.07 704.6 942.42 709.4 948.2" fill="none" stroke="url(#gH4)" stroke-width="5.15" stroke-opacity="0.09" stroke-linecap="round"/>
<path d="M133.6 826.2C138.4 826.37 152.79 826.87 162.39 827.2C171.99 827.53 181.58 827.77 191.18 828.2C200.78 828.63 210.37 829.32 219.97 829.8C229.57 830.28 239.16 830.57 248.76 831.1C258.36 831.63 267.95 832.47 277.55 833C287.15 833.53 296.74 833.77 306.34 834.3C315.94 834.83 325.53 835.57 335.13 836.2C344.73 836.83 354.32 837.37 363.92 838.1C373.52 838.83 383.11 839.73 392.71 840.6C402.31 841.47 411.9 842.43 421.5 843.3C431.1 844.17 440.69 844.85 450.29 845.8C459.89 846.75 469.48 847.92 479.08 849C488.68 850.08 498.27 851.05 507.87 852.3C517.47 853.55 527.06 855.02 536.66 856.5C546.26 857.98 555.85 859.4 565.45 861.2C575.05 863 584.64 865.02 594.24 867.3C603.84 869.58 613.43 871.95 623.03 874.9C632.63 877.85 642.22 880.68 651.82 885C661.42 889.32 671.01 892.42 680.61 900.8C690.21 909.18 704.6 929.55 709.4 935.3" fill="none" stroke="url(#gL4)" stroke-width="5.15" stroke-opacity="0.09" stroke-linecap="round"/>
<path d="M133.6 832.8C138.4 833 152.79 833.55 162.39 834C171.99 834.45 181.58 834.97 191.18 835.5C200.78 836.03 210.37 836.7 219.97 837.2C229.57 837.7 239.16 837.93 248.76 838.5C258.36 839.07 267.95 839.95 277.55 840.6C287.15 841.25 296.74 841.78 306.34 842.4C315.94 843.02 325.53 843.58 335.13 844.3C344.73 845.02 354.32 845.88 363.92 846.7C373.52 847.52 383.11 848.37 392.71 849.2C402.31 850.03 411.9 850.68 421.5 851.7C431.1 852.72 440.69 854.2 450.29 855.3C459.89 856.4 469.48 857.2 479.08 858.3C488.68 859.4 498.27 860.52 507.87 861.9C517.47 863.28 527.06 864.97 536.66 866.6C546.26 868.23 555.85 869.78 565.45 871.7C575.05 873.62 584.64 875.7 594.24 878.1C603.84 880.5 613.43 882.98 623.03 886.1C632.63 889.22 642.22 892.23 651.82 896.8C661.42 901.37 671.01 904.93 680.61 913.5C690.21 922.07 704.6 942.42 709.4 948.2" fill="none" stroke="url(#gH4)" stroke-width="2.65" stroke-linecap="round" stroke-linejoin="round"/>
<path d="M133.6 826.2C138.4 826.37 152.79 826.87 162.39 827.2C171.99 827.53 181.58 827.77 191.18 828.2C200.78 828.63 210.37 829.32 219.97 829.8C229.57 830.28 239.16 830.57 248.76 831.1C258.36 831.63 267.95 832.47 277.55 833C287.15 833.53 296.74 833.77 306.34 834.3C315.94 834.83 325.53 835.57 335.13 836.2C344.73 836.83 354.32 837.37 363.92 838.1C373.52 838.83 383.11 839.73 392.71 840.6C402.31 841.47 411.9 842.43 421.5 843.3C431.1 844.17 440.69 844.85 450.29 845.8C459.89 846.75 469.48 847.92 479.08 849C488.68 850.08 498.27 851.05 507.87 852.3C517.47 853.55 527.06 855.02 536.66 856.5C546.26 857.98 555.85 859.4 565.45 861.2C575.05 863 584.64 865.02 594.24 867.3C603.84 869.58 613.43 871.95 623.03 874.9C632.63 877.85 642.22 880.68 651.82 885C661.42 889.32 671.01 892.42 680.61 900.8C690.21 909.18 704.6 929.55 709.4 935.3" fill="none" stroke="url(#gL4)" stroke-width="2.55" stroke-linecap="round" stroke-linejoin="round"/>
<g fill="#1d64a8"><circle cx="133.6" cy="832.8" r="2.7"/><circle cx="162.39" cy="834" r="2.7"/><circle cx="191.18" cy="835.5" r="2.7"/><circle cx="219.97" cy="837.2" r="2.7"/><circle cx="248.76" cy="838.5" r="2.7"/><circle cx="277.55" cy="840.6" r="2.7"/><circle cx="306.34" cy="842.4" r="2.7"/><circle cx="335.13" cy="844.3" r="2.7"/><circle cx="363.92" cy="846.7" r="2.7"/><circle cx="392.71" cy="849.2" r="2.7"/><circle cx="421.5" cy="851.7" r="2.7"/><circle cx="450.29" cy="855.3" r="2.7"/><circle cx="479.08" cy="858.3" r="2.7"/><circle cx="507.87" cy="861.9" r="2.7"/><circle cx="536.66" cy="866.6" r="2.7"/><circle cx="565.45" cy="871.7" r="2.7"/><circle cx="594.24" cy="878.1" r="2.7"/><circle cx="623.03" cy="886.1" r="2.7"/><circle cx="651.82" cy="896.8" r="2.7"/><circle cx="680.61" cy="913.5" r="2.7"/><circle cx="709.4" cy="948.2" r="2.7"/></g>
<g fill="#5a2a88"><circle cx="133.6" cy="826.2" r="2.55"/><circle cx="162.39" cy="827.2" r="2.55"/><circle cx="191.18" cy="828.2" r="2.55"/><circle cx="219.97" cy="829.8" r="2.55"/><circle cx="248.76" cy="831.1" r="2.55"/><circle cx="277.55" cy="833" r="2.55"/><circle cx="306.34" cy="834.3" r="2.55"/><circle cx="335.13" cy="836.2" r="2.55"/><circle cx="363.92" cy="838.1" r="2.55"/><circle cx="392.71" cy="840.6" r="2.55"/><circle cx="421.5" cy="843.3" r="2.55"/><circle cx="450.29" cy="845.8" r="2.55"/><circle cx="479.08" cy="849" r="2.55"/><circle cx="507.87" cy="852.3" r="2.55"/><circle cx="536.66" cy="856.5" r="2.55"/><circle cx="565.45" cy="861.2" r="2.55"/><circle cx="594.24" cy="867.3" r="2.55"/><circle cx="623.03" cy="874.9" r="2.55"/><circle cx="651.82" cy="885" r="2.55"/><circle cx="680.61" cy="900.8" r="2.55"/><circle cx="709.4" cy="935.3" r="2.55"/></g>
<path d="M678.1 826H690.2" stroke="#683888" stroke-width="1.5" fill="none"/>
<circle cx="684.15" cy="826" r="1.6" fill="#5a2a88"/>
<text class="g" transform="translate(691.2 828) scale(0.95 1.2)">Low</text>
<path d="M678.1 842.6H690.2" stroke="#4a58b8" stroke-width="1.5" fill="none"/>
<circle cx="684.15" cy="842.6" r="1.6" fill="#1d64a8"/>
<text class="g" transform="translate(691.2 844.6) scale(0.95 1.2)">High</text>
</g>
</svg>
</body>
</html>
